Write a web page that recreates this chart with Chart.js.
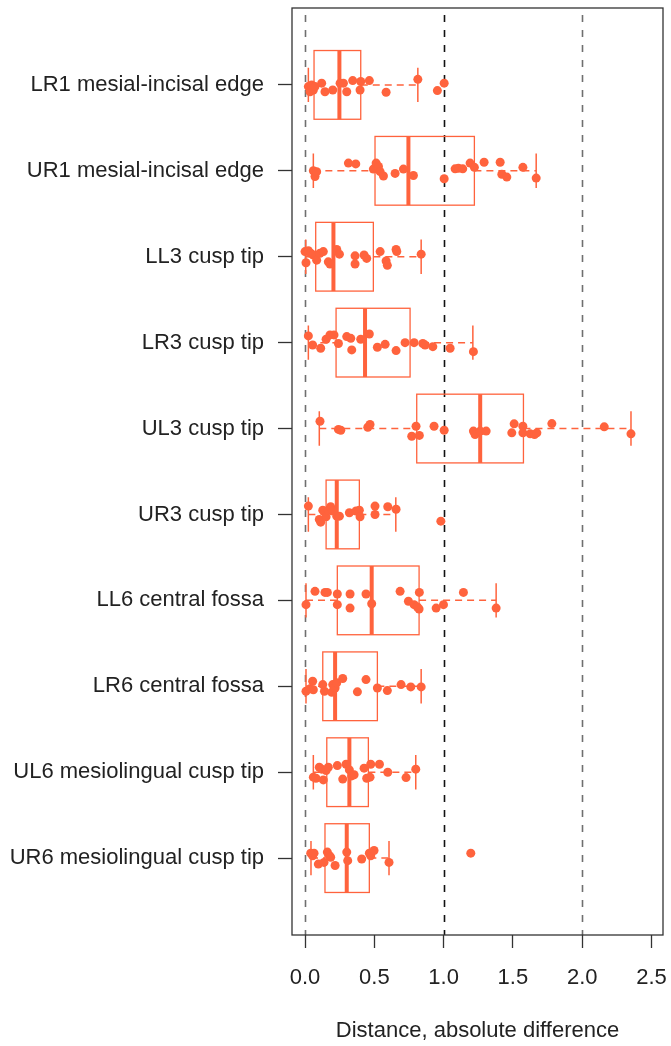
<!DOCTYPE html>
<html>
<head>
<meta charset="utf-8">
<script src="https://cdn.jsdelivr.net/npm/chart.js@4/dist/chart.umd.min.js"></script>
<style>
  body { margin: 0; background: #fff; }
  #wrap { width: 671px; height: 1046px; position: relative; }
</style>
</head>
<body>
<div id="wrap"><canvas id="chart"></canvas></div>
<script>
const categories = [
  "LR1 mesial-incisal edge",
  "UR1 mesial-incisal edge",
  "LL3 cusp tip",
  "LR3 cusp tip",
  "UL3 cusp tip",
  "UR3 cusp tip",
  "LL6 central fossa",
  "LR6 central fossa",
  "UL6 mesiolingual cusp tip",
  "UR6 mesiolingual cusp tip",
];

// box statistics per category
const whiskerLow = [0.024, 0.06, 0.005, 0.024, 0.103, 0.024, 0.007, 0.007, 0.06, 0.043];
const q1 = [0.065, 0.505, 0.077, 0.224, 0.806, 0.152, 0.233, 0.128, 0.157, 0.144];
const medians = [0.248, 0.746, 0.205, 0.433, 1.264, 0.229, 0.481, 0.217, 0.32, 0.301];
const q3 = [0.402, 1.222, 0.493, 0.758, 1.576, 0.392, 0.823, 0.522, 0.457, 0.464];
const whiskerHigh = [0.814, 1.668, 0.838, 1.211, 2.352, 0.655, 1.379, 0.838, 0.799, 0.606];

// individual observations and their vertical jitter
const pointValues = [
  [0.024, 0.036, 0.048, 0.06, 0.072, 0.12, 0.144, 0.2, 0.253, 0.277, 0.301, 0.344, 0.397, 0.402, 0.464, 0.585, 0.814, 0.955, 1.004],
  [0.06, 0.072, 0.084, 0.313, 0.366, 0.493, 0.513, 0.53, 0.542, 0.566, 0.65, 0.71, 0.782, 1.004, 1.083, 1.107, 1.138, 1.191, 1.222, 1.292, 1.408, 1.42, 1.456, 1.572, 1.668],
  [0.0, 0.007, 0.024, 0.041, 0.06, 0.084, 0.108, 0.132, 0.168, 0.18, 0.229, 0.248, 0.361, 0.361, 0.426, 0.445, 0.542, 0.585, 0.594, 0.657, 0.662, 0.838],
  [0.024, 0.055, 0.113, 0.152, 0.18, 0.209, 0.241, 0.301, 0.33, 0.337, 0.402, 0.464, 0.522, 0.578, 0.657, 0.722, 0.787, 0.85, 0.866, 0.922, 1.047, 1.215],
  [0.108, 0.241, 0.258, 0.453, 0.469, 0.801, 0.77, 0.825, 0.931, 1.004, 1.215, 1.227, 1.264, 1.307, 1.492, 1.509, 1.572, 1.572, 1.625, 1.656, 1.673, 1.781, 2.159, 2.352],
  [0.024, 0.103, 0.113, 0.128, 0.152, 0.168, 0.185, 0.2, 0.229, 0.248, 0.32, 0.368, 0.392, 0.397, 0.505, 0.505, 0.597, 0.657, 0.98],
  [0.007, 0.072, 0.144, 0.161, 0.233, 0.233, 0.325, 0.325, 0.44, 0.481, 0.686, 0.746, 0.787, 0.811, 0.823, 0.825, 0.946, 0.999, 1.143, 1.379],
  [0.007, 0.036, 0.055, 0.06, 0.128, 0.14, 0.193, 0.2, 0.217, 0.229, 0.272, 0.378, 0.44, 0.522, 0.594, 0.693, 0.763, 0.838],
  [0.06, 0.079, 0.103, 0.12, 0.132, 0.152, 0.168, 0.233, 0.272, 0.296, 0.32, 0.337, 0.354, 0.426, 0.445, 0.469, 0.474, 0.537, 0.597, 0.729, 0.799],
  [0.041, 0.055, 0.065, 0.096, 0.137, 0.161, 0.176, 0.185, 0.217, 0.301, 0.308, 0.409, 0.464, 0.474, 0.498, 0.606, 1.196],
];
const pointJitter = [
  [0.02, 0.08, 0, 0.06, 0.02, -0.02, 0.08, 0.06, -0.02, -0.02, 0.08, -0.05, 0.06, -0.04, -0.05, 0.085, -0.065, 0.066, -0.02],
  [0, 0.066, 0.01, -0.09, -0.08, -0.02, -0.09, -0.05, 0.01, 0.06, 0.03, -0.02, 0.055, 0.093, -0.023, -0.03, -0.023, -0.09, -0.04, -0.1, -0.1, 0.04, 0.073, -0.04, 0.085],
  [-0.06, 0.07, -0.07, -0.04, -0.02, 0.04, -0.04, -0.06, 0.06, 0.085, -0.085, -0.03, -0.01, 0.085, -0.02, 0.02, -0.06, 0.05, 0.1, -0.085, -0.06, -0.03],
  [-0.078, 0.027, 0.065, -0.04, -0.09, -0.09, 0.01, -0.07, -0.05, 0.085, -0.04, -0.1, 0.054, 0.02, 0.093, 0, 0, 0.01, 0.027, 0.047, 0.065, 0.105],
  [-0.085, 0.01, 0.02, -0.015, -0.047, -0.027, 0.09, 0.08, -0.027, 0.02, 0.03, 0.07, 0.03, 0.03, 0.05, -0.055, -0.027, 0.05, 0.062, 0.07, 0.05, -0.058, -0.02, 0.062],
  [-0.097, 0.058, 0.09, -0.05, 0.027, -0.05, -0.09, -0.04, 0.02, 0.02, -0.02, -0.04, -0.05, 0.027, -0.097, 0, -0.09, -0.06, 0.078],
  [0.05, -0.105, -0.093, -0.093, -0.074, 0.05, -0.074, 0.09, -0.074, 0.04, -0.105, 0.01, 0.05, 0.077, 0.1, -0.093, 0.09, 0.05, -0.093, 0.09],
  [0.058, 0.03, -0.058, 0.04, -0.02, 0.058, 0.07, -0.02, 0.02, -0.04, -0.09, 0.065, -0.078, 0.02, 0.05, -0.02, 0.007, 0.007],
  [0.058, 0.07, -0.058, -0.035, 0.09, -0.02, -0.058, -0.077, 0.08, -0.093, -0.027, 0.043, 0.03, -0.047, 0.07, 0.058, -0.093, -0.093, 0, 0.063, -0.035],
  [-0.058, -0.027, -0.058, 0.07, 0.05, -0.07, -0.027, -0.01, 0.086, -0.07, 0.03, 0.01, -0.058, -0.027, -0.088, 0.05, -0.058],
];

const xTicks = [0, 0.5, 1.0, 1.5, 2.0, 2.5];
const refLines = [0, 1, 2];
const refColors = ["#6f6f6f", "#111111", "#6f6f6f"];

const orange = "#ff633d";
const textColor = "#222222";

const points = [];
pointValues.forEach((vals, i) => {
  vals.forEach((v, j) => points.push({ x: v, y: i + pointJitter[i][j] }));
});

function noEdgePadding(scale) {
  scale.paddingLeft = 0;
  scale.paddingRight = 0;
  scale.paddingTop = 0;
  scale.paddingBottom = 0;
}

const boxPlugin = {
  id: "boxes",
  beforeDatasetsDraw(chart) {
    const { ctx, chartArea, scales: { x, y } } = chart;
    ctx.save();

    // dashed reference lines
    ctx.lineWidth = 1.6;
    ctx.setLineDash([7, 8]);
    refLines.forEach((v, i) => {
      const px = Math.round(x.getPixelForValue(v)) + 0.5;
      ctx.strokeStyle = refColors[i];
      ctx.beginPath();
      ctx.moveTo(px, chartArea.top + 7);
      ctx.lineTo(px, chartArea.bottom);
      ctx.stroke();
    });

    ctx.strokeStyle = orange;
    categories.forEach((_, i) => {
      const yc = y.getPixelForValue(i);
      const half = Math.abs(y.getPixelForValue(i + 0.4) - yc);
      const staple = half / 2;
      const xl = x.getPixelForValue(whiskerLow[i]);
      const x1 = x.getPixelForValue(q1[i]);
      const xm = x.getPixelForValue(medians[i]);
      const x3 = x.getPixelForValue(q3[i]);
      const xh = x.getPixelForValue(whiskerHigh[i]);

      // whiskers
      ctx.lineWidth = 1.5;
      ctx.setLineDash([7, 5]);
      ctx.beginPath();
      ctx.moveTo(xl, yc); ctx.lineTo(x1, yc);
      ctx.moveTo(x3, yc); ctx.lineTo(xh, yc);
      ctx.stroke();

      ctx.setLineDash([]);
      ctx.beginPath();
      ctx.moveTo(xl, yc - staple); ctx.lineTo(xl, yc + staple);
      ctx.moveTo(xh, yc - staple); ctx.lineTo(xh, yc + staple);
      ctx.stroke();

      // box
      ctx.lineWidth = 1.3;
      ctx.strokeRect(x1, yc - half, x3 - x1, 2 * half);

      // median
      ctx.lineWidth = 4;
      ctx.beginPath();
      ctx.moveTo(xm, yc - half); ctx.lineTo(xm, yc + half);
      ctx.stroke();
    });
    ctx.restore();
  },
  afterDraw(chart) {
    const { ctx, chartArea } = chart;
    ctx.save();
    ctx.strokeStyle = "#333333";
    ctx.lineWidth = 1.3;
    ctx.strokeRect(chartArea.left, chartArea.top, chartArea.right - chartArea.left, chartArea.bottom - chartArea.top);
    ctx.restore();
  },
};

new Chart(document.getElementById("chart"), {
  type: "scatter",
  data: {
    datasets: [
      {
        data: points,
        backgroundColor: orange,
        borderWidth: 0,
        pointRadius: 4.5,
      },
    ],
  },
  options: {
    responsive: true,
    maintainAspectRatio: false,
    animation: false,
    layout: { padding: { left: 0, right: 8, top: 8, bottom: 0 } },
    plugins: {
      legend: { display: false },
      tooltip: { enabled: false },
    },
    scales: {
      x: {
        type: "linear",
        min: -0.094,
        max: 2.583,
        afterBuildTicks: (scale) => {
          scale.ticks = xTicks.map((v) => ({ value: v }));
        },
        afterFit: (scale) => {
          scale.height = 111;
          noEdgePadding(scale);
        },
        ticks: {
          callback: (v) => Number(v).toFixed(1),
          font: { family: "Liberation Sans", size: 22 },
          color: textColor,
          padding: 17,
          maxRotation: 0,
          autoSkip: false,
        },
        grid: {
          drawOnChartArea: false,
          drawTicks: true,
          tickLength: 13,
          tickColor: "#333333",
          tickWidth: 1.3,
        },
        border: { display: false },
        title: {
          display: true,
          text: "Distance, absolute difference",
          font: { family: "Liberation Sans", size: 22 },
          color: textColor,
          padding: { top: 0, bottom: 2 },
        },
      },
      y: {
        type: "linear",
        reverse: true,
        min: -0.895,
        max: 9.895,
        afterBuildTicks: (scale) => {
          scale.ticks = categories.map((_, i) => ({ value: i }));
        },
        afterFit: (scale) => {
          scale.width = 292;
          noEdgePadding(scale);
        },
        ticks: {
          callback: (v) => categories[v],
          font: { family: "Liberation Sans", size: 22 },
          color: textColor,
          padding: 14,
          autoSkip: false,
        },
        grid: {
          drawOnChartArea: false,
          drawTicks: true,
          tickLength: 14,
          tickColor: "#333333",
          tickWidth: 1.3,
        },
        border: { display: false },
      },
    },
  },
  plugins: [boxPlugin],
});
</script>
</body>
</html>
